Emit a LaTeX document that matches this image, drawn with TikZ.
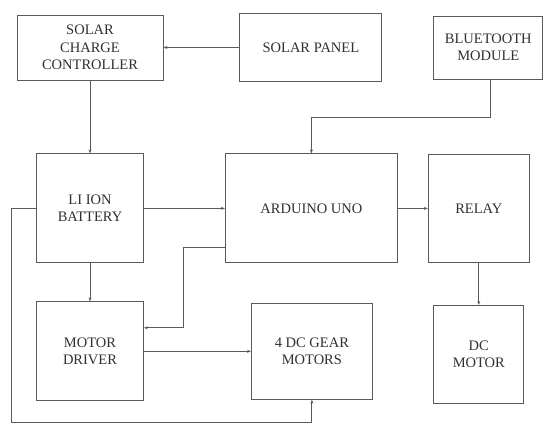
\documentclass[tikz,border=0pt]{standalone}
\usepackage{fontspec}
\setmainfont{Liberation Serif}
\usepackage{tikz}
\usetikzlibrary{arrows.meta,positioning,calc}
\usepackage{xcolor}
\definecolor{wire}{HTML}{5A5A5A}
\definecolor{ink}{HTML}{303030}

\begin{document}
\begin{tikzpicture}[
  x=1pt, y=1pt,
  >={Stealth[length=4pt,width=3pt]},
  block/.style={draw=wire, line width=0.9pt, inner sep=0pt, align=center,
                text=ink, font=\fontsize{14.5}{17.5}\selectfont},
  every path/.style={line width=0.9pt},
  link/.style={draw=wire, ->}
]
  \useasboundingbox (0,0) rectangle (543,425);
  %% Top row
  \node[block, minimum width=146pt, minimum height=65pt] (scc) at (90,377.5)
    {SOLAR\\CHARGE\\CONTROLLER};
  \node[block, minimum width=142pt, minimum height=68pt, right=76pt of scc] (panel)
    {SOLAR PANEL};
  \node[block, minimum width=109pt, minimum height=63pt, right=51pt of panel] (bt)
    {BLUETOOTH\\MODULE};
  %% Middle row
  \node[block, minimum width=107pt, minimum height=109pt, below=73pt of scc] (batt)
    {LI ION\\BATTERY};
  \node[block, minimum width=172pt, minimum height=109pt, right=81pt of batt] (ard)
    {ARDUINO UNO};
  \node[block, minimum width=101pt, minimum height=108pt, right=30pt of ard] (relay)
    {RELAY};
  %% Bottom row
  \node[block, minimum width=107pt, minimum height=99pt, below=38pt of batt] (md)
    {MOTOR\\DRIVER};
  \node[block, minimum width=121pt, minimum height=96pt, right=107pt of md] (gear)
    {4 DC GEAR\\MOTORS};
  \node[block, minimum width=90pt, minimum height=98pt, below=42pt of relay] (dcm)
    {DC\\MOTOR};
  \coordinate (loop) at (11,3);
  %% Connectors
  \draw[link] (panel.west) -- (panel.west -| scc.east);
  \draw[link] (scc.south) -- (batt.north);
  \draw[link] ([xshift=2.5pt]bt.south) -- ++(0,-38) -| (ard.north);
  \draw[link] (batt.east) -- (ard.west);
  \draw[link] (ard.east) -- (ard.east -| relay.west);
  \draw[link] (batt.south) -- (batt.south |- md.north);
  \draw[link] ([yshift=16pt]ard.south west) -- ++(-42,0) |- ([yshift=23.5pt]md.east);
  \draw[link] (md.east) -- (md.east -| gear.west);
  \draw[link] (relay.south) -- (relay.south |- dcm.north);
  \draw[link] (batt.west) -| (loop) -| (gear.south);
\end{tikzpicture}
\end{document}
